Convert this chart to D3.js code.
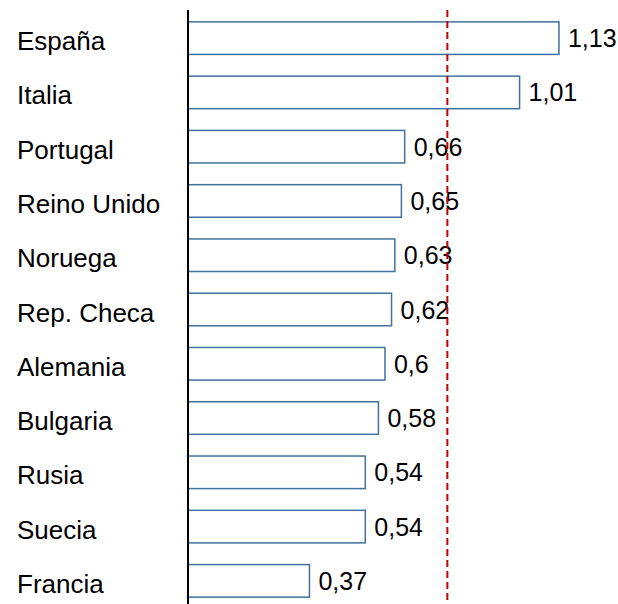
<!DOCTYPE html>
<html>
<head>
<meta charset="utf-8">
<script src="https://cdn.jsdelivr.net/npm/d3@7"></script>
<style>
  body { margin: 0; background: #fff; }
  text { font-family: "Liberation Sans", Arial, sans-serif; fill: #000; }
</style>
</head>
<body>
<svg width="618" height="604"></svg>
<script>
  const countries = ['España', 'Italia', 'Portugal', 'Reino Unido', 'Noruega', 'Rep. Checa',
    'Alemania', 'Bulgaria', 'Rusia', 'Suecia', 'Francia'];
  const values = [1.13, 1.01, 0.66, 0.65, 0.63, 0.62, 0.6, 0.58, 0.54, 0.54, 0.37];
  const refValue = 0.79;

  const svg = d3.select('svg');
  const fmt = v => String(v).replace('.', ',');

  const x = d3.scaleLinear()
    .domain([0, 1.2])
    .range([188, 188 + 1.2 * 328.3]);

  const y = d3.scaleBand()
    .domain(countries)
    .range([11, 608])
    .paddingInner(0.4)
    .paddingOuter(0.2);

  // bars
  svg.append('g')
    .selectAll('rect')
    .data(values)
    .join('rect')
      .attr('x', x(0))
      .attr('y', (d, i) => y(countries[i]))
      .attr('width', d => x(d) - x(0))
      .attr('height', y.bandwidth())
      .attr('fill', '#fff')
      .attr('stroke', '#41719c')
      .attr('stroke-width', 1.5);

  // value labels
  svg.append('g')
    .selectAll('text')
    .data(values)
    .join('text')
      .attr('x', d => x(d) + 9)
      .attr('y', (d, i) => y(countries[i]) + y.bandwidth() / 2 + 9)
      .style('font-size', '25px')
      .text(d => fmt(d));

  // category labels
  svg.append('g')
    .selectAll('text')
    .data(countries)
    .join('text')
      .attr('x', 17)
      .attr('y', d => y(d) + y.bandwidth() / 2 + 12)
      .style('font-size', '26px')
      .text(d => d);

  // reference line
  svg.append('line')
    .attr('x1', x(refValue)).attr('x2', x(refValue))
    .attr('y1', 10).attr('y2', 604)
    .attr('stroke', '#c00000')
    .attr('stroke-width', 2)
    .attr('stroke-dasharray', '7,4');

  // axis
  const axis = svg.append('g')
    .attr('transform', `translate(${x(0)},0)`)
    .call(d3.axisLeft(y).tickSize(0).tickFormat(''));
  axis.select('.domain')
    .attr('d', 'M0,10V604')
    .attr('stroke', '#000')
    .attr('stroke-width', 2);
</script>
</body>
</html>
